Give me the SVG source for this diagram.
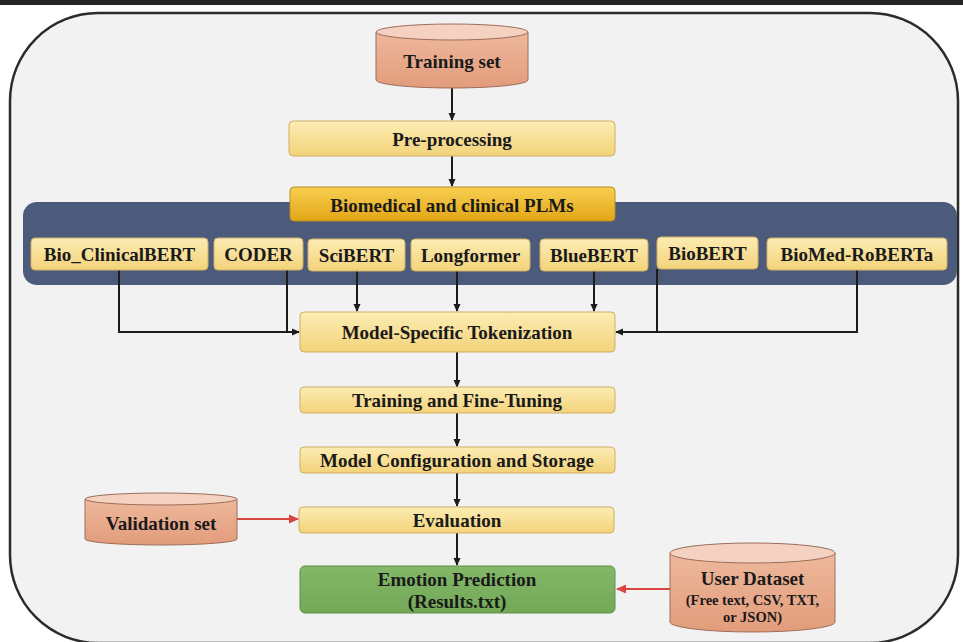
<svg xmlns="http://www.w3.org/2000/svg" width="963" height="642" viewBox="0 0 963 642">
<defs>
  <linearGradient id="gY" x1="0" y1="0" x2="0" y2="1">
    <stop offset="0" stop-color="#fcecb4"/>
    <stop offset="1" stop-color="#f3d37a"/>
  </linearGradient>
  <linearGradient id="gG" x1="0" y1="0" x2="0" y2="1">
    <stop offset="0" stop-color="#f8cf52"/>
    <stop offset="1" stop-color="#e3a616"/>
  </linearGradient>
  <linearGradient id="gS" x1="0" y1="0" x2="0" y2="1">
    <stop offset="0" stop-color="#eeb89c"/>
    <stop offset="1" stop-color="#e29c7b"/>
  </linearGradient>
  <linearGradient id="gGr" x1="0" y1="0" x2="0" y2="1">
    <stop offset="0" stop-color="#82b868"/>
    <stop offset="1" stop-color="#72a856"/>
  </linearGradient>
  <marker id="ak" markerUnits="userSpaceOnUse" markerWidth="8" markerHeight="8" refX="7" refY="4" orient="auto">
    <path d="M0,0.5 L8,4 L0,7.5 z" fill="#1c1c1c"/>
  </marker>
  <marker id="ar" markerUnits="userSpaceOnUse" markerWidth="10" markerHeight="10" refX="9" refY="5" orient="auto">
    <path d="M0,0.5 L10,5 L0,9.5 z" fill="#d9463f"/>
  </marker>
</defs>
<style>
  .t { font-family: "Liberation Serif", "Tinos", "Times New Roman", "DejaVu Serif", serif; font-weight: bold; font-size: 19px; fill: #1a1a1a; text-anchor: middle; dominant-baseline: central; }
  .s { font-size: 14.5px; }
  .box { fill: url(#gY); stroke: #cdb064; stroke-width: 1; }
  .gold { fill: url(#gG); stroke: #b98e1e; stroke-width: 1; }
  .green { fill: url(#gGr); stroke: #5f9147; stroke-width: 1; }
  .cyl { fill: url(#gS); stroke: #9c6e5a; stroke-width: 1; }
  .cylTop { fill: #f4d1c0; stroke: #9c6e5a; stroke-width: 1; }
  .ln { fill: none; stroke: #1c1c1c; stroke-width: 2; }
  .lnA { fill: none; stroke: #1c1c1c; stroke-width: 2; marker-end: url(#ak); }
  .red { fill: none; stroke: #d9463f; stroke-width: 2.2; marker-end: url(#ar); }
</style>

<rect x="0" y="0" width="963" height="642" fill="#ffffff"/>
<rect x="0" y="0" width="963" height="5" fill="#262626"/>

<rect id="frame" x="10" y="13" width="948" height="630" rx="88" ry="88" fill="#f2f2f2" stroke="#2b2b2b" stroke-width="2.5"/>

<rect id="band" x="23" y="202" width="934" height="83" rx="14" ry="14" fill="#4c5b7c"/>

<g id="connectors">
  <path class="lnA" d="M452,88 V120"/>
  <path class="lnA" d="M452,156 V186"/>
  <path class="lnA" d="M119,270 V332 H299"/>
  <path class="ln" d="M287,270 V332"/>
  <path class="lnA" d="M357,271 V311"/>
  <path class="lnA" d="M457,271 V311"/>
  <path class="lnA" d="M594,271 V311"/>
  <path class="ln" d="M657,269 V332"/>
  <path class="lnA" d="M857,270 V332 H616"/>
  <path class="lnA" d="M457,352 V387"/>
  <path class="lnA" d="M457,413 V446"/>
  <path class="lnA" d="M457,473 V506"/>
  <path class="lnA" d="M457,533 V565"/>
  <path class="red" d="M237,519 H298"/>
  <path class="red" d="M670,589 H617"/>
</g>

<g id="training-set">
  <path class="cyl" d="M376,32 V80 A76,8 0 0 0 528,80 V32 Z"/>
  <ellipse class="cylTop" cx="452" cy="32" rx="76" ry="8"/>
  <text class="t" x="452" y="61">Training set</text>
</g>

<g id="pre-processing">
  <rect class="box" x="289" y="121" width="326" height="35" rx="4"/>
  <text class="t" x="452" y="139">Pre-processing</text>
</g>

<g id="plms">
  <rect class="gold" x="290" y="187" width="325" height="34" rx="4"/>
  <text class="t" x="452" y="205">Biomedical and clinical PLMs</text>
</g>

<g id="bio-clinicalbert">
  <rect class="box" x="31" y="238" width="177" height="32" rx="4"/>
  <text class="t" x="119.5" y="254">Bio_ClinicalBERT</text>
</g>
<g id="coder">
  <rect class="box" x="214" y="238" width="89" height="32" rx="4"/>
  <text class="t" x="258.5" y="254">CODER</text>
</g>
<g id="scibert">
  <rect class="box" x="308" y="239" width="97" height="32" rx="4"/>
  <text class="t" x="356.5" y="255">SciBERT</text>
</g>
<g id="longformer">
  <rect class="box" x="411" y="239" width="119" height="32" rx="4"/>
  <text class="t" x="470.5" y="255">Longformer</text>
</g>
<g id="bluebert">
  <rect class="box" x="540" y="239" width="108" height="32" rx="4"/>
  <text class="t" x="594" y="255">BlueBERT</text>
</g>
<g id="biobert">
  <rect class="box" x="657" y="237" width="101" height="32" rx="4"/>
  <text class="t" x="707.5" y="253">BioBERT</text>
</g>
<g id="biomed-roberta">
  <rect class="box" x="767" y="238" width="180" height="32" rx="4"/>
  <text class="t" x="857" y="254">BioMed-RoBERTa</text>
</g>

<g id="tokenization">
  <rect class="box" x="300" y="312" width="315" height="40" rx="4"/>
  <text class="t" x="457" y="332">Model-Specific Tokenization</text>
</g>

<g id="training">
  <rect class="box" x="300" y="387" width="315" height="26" rx="4"/>
  <text class="t" x="457" y="400">Training and Fine-Tuning</text>
</g>

<g id="configuration">
  <rect class="box" x="300" y="447" width="315" height="26" rx="4"/>
  <text class="t" x="457" y="460">Model Configuration and Storage</text>
</g>

<g id="evaluation">
  <rect class="box" x="299" y="507" width="315" height="26" rx="4"/>
  <text class="t" x="457" y="520">Evaluation</text>
</g>

<g id="emotion-prediction">
  <rect class="green" x="300" y="566" width="315" height="47" rx="5"/>
  <text class="t" x="457" y="579">Emotion Prediction</text>
  <text class="t" x="457" y="601">(Results.txt)</text>
</g>

<g id="validation-set">
  <path class="cyl" d="M85,499 V539 A76,6 0 0 0 237,539 V499 Z"/>
  <ellipse class="cylTop" cx="161" cy="499" rx="76" ry="6"/>
  <text class="t" x="161" y="523">Validation set</text>
</g>

<g id="user-dataset">
  <path class="cyl" d="M670,553 V622 A82.5,10 0 0 0 835,622 V553 Z"/>
  <ellipse class="cylTop" cx="752.5" cy="553" rx="82.5" ry="10"/>
  <text class="t" x="752.5" y="578">User Dataset</text>
  <text class="t s" x="752.5" y="600">(Free text, CSV, TXT,</text>
  <text class="t s" x="752.5" y="617">or JSON)</text>
</g>
</svg>
